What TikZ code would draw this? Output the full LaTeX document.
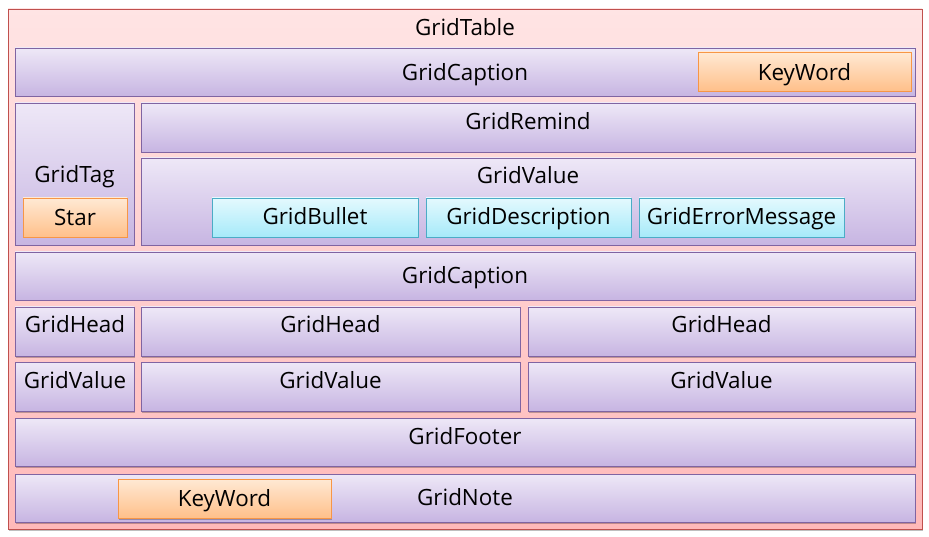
\documentclass[tikz,border=0pt]{standalone}
\usepackage{fontspec}
\setmainfont{Open Sans}
\usetikzlibrary{shadows}
\definecolor{pinkT}{HTML}{FFE4E4}
\definecolor{pinkB}{HTML}{FFB9B9}
\definecolor{pinkD}{HTML}{C0504D}
\definecolor{purT}{HTML}{EEE8F7}
\definecolor{purB}{HTML}{C7B5E2}
\definecolor{purD}{HTML}{8064A2}
\definecolor{orT}{HTML}{FFE9D4}
\definecolor{orB}{HTML}{FFC08A}
\definecolor{orD}{HTML}{F79646}
\definecolor{cyT}{HTML}{E4F9FE}
\definecolor{cyB}{HTML}{A6EAF9}
\definecolor{cyD}{HTML}{4BACC6}
\begin{document}
\begin{tikzpicture}[x=1pt,y=-1pt,
  every node/.style={inner sep=0pt},
  base/.style={rectangle, line width=0.9pt, drop shadow={shadow xshift=1.2pt, shadow yshift=-1.5pt, opacity=0.25, fill=black}},
  pbox/.style={base, draw=purD, top color=purT, bottom color=purB},
  obox/.style={base, draw=orD, top color=orT, bottom color=orB},
  cbox/.style={base, draw=cyD, top color=cyT, bottom color=cyB},
  lbl/.style={anchor=base, font=\fontsize{22.4}{26}\selectfont, text=black}
]
\useasboundingbox (0,0) rectangle (929,537);
% outer
\node[rectangle, draw=pinkD, line width=0.9pt, top color=pinkT, bottom color=pinkB,
  minimum width=914pt, minimum height=520pt, drop shadow={shadow xshift=1.2pt, shadow yshift=-1.5pt, opacity=0.25, fill=black}] (table) at (465,269) {};
\node[lbl] (tableT) at (465,36) {GridTable};
% caption row
\node[pbox, minimum width=900pt, minimum height=48pt] (cap1) at (465,72) {};
\node[lbl] (cap1T) at (465,81) {GridCaption};
\node[obox, minimum width=213pt, minimum height=39pt] (kw1) at (804.5,71.5) {};
\node[lbl] (kw1T) at (804.5,80.5) {KeyWord};
% tag
\node[pbox, minimum width=119pt, minimum height=142pt] (tag) at (74.5,174) {};
\node[lbl] (tagT) at (74.5,183) {GridTag};
\node[obox, minimum width=104pt, minimum height=39pt] (star) at (75,217.5) {};
\node[lbl] (starT) at (75,226) {Star};
% remind
\node[pbox, minimum width=774pt, minimum height=49pt] (remind) at (528,127.5) {};
\node[lbl] (remindT) at (528,130) {GridRemind};
% value
\node[pbox, minimum width=774pt, minimum height=87pt] (value) at (528,201.5) {};
\node[lbl] (valueT) at (528,184) {GridValue};
\node[cbox, minimum width=206pt, minimum height=39pt] (bullet) at (315,217.5) {};
\node[lbl] (bulletT) at (315,225) {GridBullet};
\node[cbox, minimum width=205pt, minimum height=39pt] (desc) at (528.5,217.5) {};
\node[lbl] (descT) at (528.5,225) {GridDescription};
\node[cbox, minimum width=205pt, minimum height=39pt] (err) at (741.5,217.5) {};
\node[lbl] (errT) at (741.5,225) {GridErrorMessage};
% caption 2
\node[pbox, minimum width=900pt, minimum height=48pt] (cap2) at (465,276) {};
\node[lbl] (cap2T) at (465,284) {GridCaption};
% heads
\node[pbox, minimum width=119pt, minimum height=49pt] (h1) at (74.5,331.5) {};
\node[lbl] (h1T) at (75,333) {GridHead};
\node[pbox, minimum width=379pt, minimum height=49pt] (h2) at (330.5,331.5) {};
\node[lbl] (h2T) at (330.5,333) {GridHead};
\node[pbox, minimum width=387pt, minimum height=49pt] (h3) at (721.5,331.5) {};
\node[lbl] (h3T) at (721.5,333) {GridHead};
% values
\node[pbox, minimum width=119pt, minimum height=49pt] (v1) at (74.5,386.5) {};
\node[lbl] (v1T) at (75,388) {GridValue};
\node[pbox, minimum width=379pt, minimum height=49pt] (v2) at (330.5,386.5) {};
\node[lbl] (v2T) at (330.5,388) {GridValue};
\node[pbox, minimum width=387pt, minimum height=49pt] (v3) at (721.5,386.5) {};
\node[lbl] (v3T) at (721.5,388) {GridValue};
% footer
\node[pbox, minimum width=900pt, minimum height=48pt] (footer) at (465,442) {};
\node[lbl] (footerT) at (465,444) {GridFooter};
% note
\node[pbox, minimum width=900pt, minimum height=48pt] (note) at (465,498) {};
\node[lbl] (noteT) at (465,505) {GridNote};
\node[obox, minimum width=213pt, minimum height=39pt] (kw2) at (224.5,498.5) {};
\node[lbl] (kw2T) at (224.5,506) {KeyWord};
\end{tikzpicture}
\end{document}
